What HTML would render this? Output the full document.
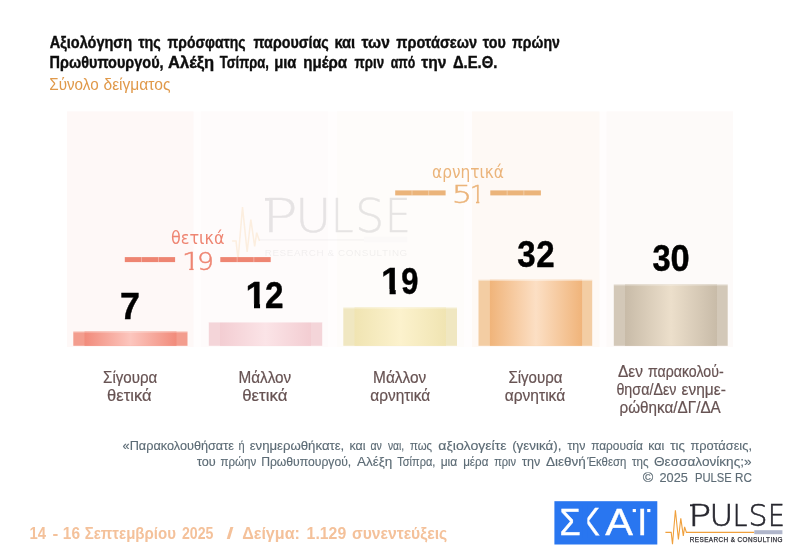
<!DOCTYPE html>
<html lang="el">
<head>
<meta charset="utf-8">
<title>Αξιολόγηση της πρόσφατης παρουσίας και των προτάσεων του πρώην Πρωθυπουργού</title>
<style>
  html, body { margin:0; padding:0; background:#ffffff; }
  body { width:798px; height:558px; overflow:hidden; }
  svg { display:block; will-change:transform; }
  text { font-family:"Liberation Sans", sans-serif; }
  .b { font-weight:bold; }
  .ttl { font-weight:bold; font-size:17px; fill:#0d0d0d; stroke:#0d0d0d; stroke-width:0.4px; }
  .sub { font-size:16px; fill:#e0994a; }
  .num text { font-weight:bold; font-size:37px; fill:#000; stroke:#000; stroke-width:0.45px; }
  .lab { font-size:15.6px; fill:#675353; stroke:#675353; stroke-width:0.2px; }
  .q   { font-size:13.5px; fill:#5c6b75; stroke:#5c6b75; stroke-width:0.15px; }
  .ft  { font-weight:bold; font-size:16px; fill:#f4c19a; }
  .pos { fill:#ee8572; }
  .neg { fill:#ebb47a; }
  .dv { font-family:"DejaVu Sans",sans-serif; font-weight:normal; }
  .pos .ltn { stroke:#ee8572; stroke-width:0.5px; }
  .neg .ltn { stroke:#ebb47a; stroke-width:0.5px; }
  .lt { font-family:"DejaVu Sans Light","DejaVu Sans",sans-serif; font-weight:200; }
</style>
</head>
<body>
<svg width="798" height="558" viewBox="0 0 798 558">
  <defs>
    <linearGradient id="g1" x1="0" x2="1" y1="0" y2="0">
      <stop offset="0" stop-color="#f18b7b"/><stop offset="0.5" stop-color="#fcc6be"/><stop offset="1" stop-color="#f18b7b"/>
    </linearGradient>
    <linearGradient id="g2" x1="0" x2="1" y1="0" y2="0">
      <stop offset="0" stop-color="#f3cdd2"/><stop offset="0.5" stop-color="#fbe4e7"/><stop offset="1" stop-color="#f3cdd2"/>
    </linearGradient>
    <linearGradient id="g3" x1="0" x2="1" y1="0" y2="0">
      <stop offset="0" stop-color="#f0e4b2"/><stop offset="0.5" stop-color="#fcf2cd"/><stop offset="1" stop-color="#f0e4b2"/>
    </linearGradient>
    <linearGradient id="g4" x1="0" x2="1" y1="0" y2="0">
      <stop offset="0" stop-color="#f0b47a"/><stop offset="0.5" stop-color="#fcdfc4"/><stop offset="1" stop-color="#f0b47a"/>
    </linearGradient>
    <linearGradient id="g5" x1="0" x2="1" y1="0" y2="0">
      <stop offset="0" stop-color="#c8bba8"/><stop offset="0.5" stop-color="#ecdfcb"/><stop offset="1" stop-color="#c8bba8"/>
    </linearGradient>
    <clipPath id="one"><polygon points="0,-32 14.7,-32 14.7,2 8.6,2 8.6,-4.4 0,-4.4"/></clipPath>
    <clipPath id="iclip"><rect x="-6" y="-26.8" width="24" height="30"/></clipPath>
    <clipPath id="onel"><polygon points="0,-26 10.1,-26 10.1,1 6.5,1 6.5,-2.4 0,-2.4"/></clipPath>
  </defs>

  <!-- faint background columns -->
  <g id="cols">
    <rect x="67" y="111.5" width="666" height="235.5" fill="#fffdfd"/>
    <rect x="67"    y="111.5" width="126.5" height="235.5" fill="#fef8f7"/>
    <rect x="201"   y="111.5" width="127"   height="235.5" fill="#fefbfb"/>
    <rect x="337"   y="111.5" width="127"   height="235.5" fill="#fefcfa"/>
    <rect x="472"   y="111.5" width="127.5" height="235.5" fill="#fef9f5"/>
    <rect x="606.5" y="111.5" width="126.5" height="235.5" fill="#fdfaf9"/>
  </g>

  <!-- watermark -->
  <g id="watermark" transform="translate(265,231.7) scale(1.54) translate(-690,-526.3)">
    <polyline fill="none" stroke="#f0a03c" stroke-opacity="0.14" stroke-width="1" points="668.6,532.4 671.2,532.4 672.5,544.3 675.4,510.3 678.4,539.4 680.8,518.4 683.3,535.8 684.6,526.9 686.4,532.4"/>
    <g opacity="0.105">
      <path d="M686.4,531.6 H754.3" stroke="#55555f" stroke-width="0.9" fill="none" opacity="0.5"/>
      <rect x="754.3" y="529.6" width="28.1" height="3.6" fill="#7a83a5" opacity="0.2"/>
      <text class="lt" fill="#26262e" stroke="#26262e" stroke-width="0.3" font-size="30.2" y="526.3"><tspan x="688.3" textLength="23.1" lengthAdjust="spacingAndGlyphs">P</tspan><tspan x="709.5" textLength="23.7" lengthAdjust="spacingAndGlyphs">U</tspan><tspan x="732.8" textLength="14.66" lengthAdjust="spacingAndGlyphs">L</tspan><tspan x="748.5" textLength="19" lengthAdjust="spacingAndGlyphs">S</tspan><tspan x="767.9" textLength="16.74" lengthAdjust="spacingAndGlyphs">E</tspan></text>
      <path d="M690,505.3 H693" stroke="#26262e" stroke-width="1.9" fill="none"/>
      <text fill="#33333a" opacity="0.6" font-size="6.4" x="689.8" y="542.2" textLength="92.6" lengthAdjust="spacing">RESEARCH &amp; CONSULTING</text>
    </g>
  </g>

  <!-- title -->
  <text class="ttl" y="48"><tspan x="49.77" textLength="82.43" lengthAdjust="spacingAndGlyphs">Αξιολόγηση</tspan> <tspan x="138.20" textLength="22.61" lengthAdjust="spacingAndGlyphs">της</tspan> <tspan x="167.58" textLength="77.92" lengthAdjust="spacingAndGlyphs">πρόσφατης</tspan> <tspan x="253.58" textLength="75.13" lengthAdjust="spacingAndGlyphs">παρουσίας</tspan> <tspan x="334.38" textLength="20.83" lengthAdjust="spacingAndGlyphs">και</tspan> <tspan x="361.60" textLength="28.23" lengthAdjust="spacingAndGlyphs">των</tspan> <tspan x="396.27" textLength="80.82" lengthAdjust="spacingAndGlyphs">προτάσεων</tspan> <tspan x="482.80" textLength="23.00" lengthAdjust="spacingAndGlyphs">του</tspan> <tspan x="512.08" textLength="47.69" lengthAdjust="spacingAndGlyphs">πρώην</tspan></text>
  <text class="ttl" y="68.2"><tspan x="49.60" textLength="114.06" lengthAdjust="spacingAndGlyphs">Πρωθυπουργού,</tspan> <tspan x="168.04" textLength="46.16" lengthAdjust="spacingAndGlyphs">Αλέξη</tspan> <tspan x="219.70" textLength="49.17" lengthAdjust="spacingAndGlyphs">Τσίπρα,</tspan> <tspan x="274.17" textLength="22.31" lengthAdjust="spacingAndGlyphs">μια</tspan> <tspan x="303.19" textLength="43.89" lengthAdjust="spacingAndGlyphs">ημέρα</tspan> <tspan x="354.59" textLength="29.55" lengthAdjust="spacingAndGlyphs">πριν</tspan> <tspan x="390.82" textLength="24.49" lengthAdjust="spacingAndGlyphs">από</tspan> <tspan x="421.20" textLength="25.13" lengthAdjust="spacingAndGlyphs">την</tspan> <tspan x="452.94" textLength="44.44" lengthAdjust="spacingAndGlyphs">Δ.Ε.Θ.</tspan></text>
  <text class="sub" y="89.5"><tspan x="49.29" textLength="49.33" lengthAdjust="spacingAndGlyphs">Σύνολο</tspan> <tspan x="103.51" textLength="66.94" lengthAdjust="spacingAndGlyphs">δείγματος</tspan></text>

  <!-- bars -->
  <g id="bars">
    <rect x="73.3"  y="331.5" width="114.2" height="14.3" fill="#f39d8e"/>
    <rect x="84.5"  y="331.5" width="92"    height="14.3" fill="url(#g1)"/>
    <rect x="208.8" y="322"   width="113.4" height="23.8" fill="#f4d5d9"/>
    <rect x="220"   y="322"   width="91"    height="23.8" fill="url(#g2)"/>
    <rect x="343.3" y="307.5" width="113.7" height="38.3" fill="#f0e7c1"/>
    <rect x="354.5" y="307.5" width="91.5"  height="38.3" fill="url(#g3)"/>
    <rect x="478.5" y="279.8" width="113.7" height="66"   fill="#f3cda3"/>
    <rect x="489.9" y="279.8" width="92.2"  height="66"   fill="url(#g4)"/>
    <rect x="613.8" y="284.5" width="113.9" height="61.3" fill="#d3c8b8"/>
    <rect x="625"   y="284.5" width="92"    height="61.3" fill="url(#g5)"/>
    <g fill="#ffffff" opacity="0.4">
      <rect x="73.3" y="331.5" width="114.2" height="1"/><rect x="208.8" y="322" width="113.4" height="1"/><rect x="343.3" y="307.5" width="113.7" height="1"/><rect x="478.5" y="279.8" width="113.7" height="1.2"/><rect x="613.8" y="284.5" width="113.9" height="1"/>
    </g>
  </g>

  <!-- values -->
  <g class="num">
    <text transform="translate(119.9,318.7) scale(0.97,1)">7</text>
    <text transform="translate(245.4,308.1)" clip-path="url(#one)">1</text><text transform="translate(264.9,308.1) scale(0.9,1)">2</text>
    <text transform="translate(381,293.7)" clip-path="url(#one)">1</text><text transform="translate(401.3,293.7) scale(0.833,1)">9</text>
    <text transform="translate(517.2,266.6) scale(0.894,1)">3</text><text transform="translate(536.2,266.6) scale(0.894,1)">2</text>
    <text transform="translate(652.4,270.9) scale(0.883,1)">3</text><text transform="translate(670.5,270.9) scale(0.93,1)">0</text>
  </g>

  <!-- category labels -->
  <text class="lab" y="382.9"><tspan x="103.09" textLength="54.14" lengthAdjust="spacingAndGlyphs">Σίγουρα</tspan></text>
  <text class="lab" y="401.4"><tspan x="107.12" textLength="44.43" lengthAdjust="spacingAndGlyphs">θετικά</tspan></text>
  <text class="lab" y="382.9"><tspan x="238.51" textLength="52.77" lengthAdjust="spacingAndGlyphs">Μάλλον</tspan></text>
  <text class="lab" y="401.4"><tspan x="242.21" textLength="45.15" lengthAdjust="spacingAndGlyphs">θετικά</tspan></text>
  <text class="lab" y="382.9"><tspan x="373.10" textLength="53.19" lengthAdjust="spacingAndGlyphs">Μάλλον</tspan></text>
  <text class="lab" y="401.4"><tspan x="370.22" textLength="60.02" lengthAdjust="spacingAndGlyphs">αρνητικά</tspan></text>
  <text class="lab" y="382.9"><tspan x="508.39" textLength="54.14" lengthAdjust="spacingAndGlyphs">Σίγουρα</tspan></text>
  <text class="lab" y="401.4"><tspan x="504.71" textLength="60.53" lengthAdjust="spacingAndGlyphs">αρνητικά</tspan></text>
  <text class="lab" y="376.6"><tspan x="617.96" textLength="25.03" lengthAdjust="spacingAndGlyphs">Δεν</tspan> <tspan x="648.06" textLength="75.55" lengthAdjust="spacingAndGlyphs">παρακολού-</tspan></text>
  <text class="lab" y="394.8"><tspan x="616.43" textLength="60.02" lengthAdjust="spacingAndGlyphs">θησα/Δεν</tspan> <tspan x="681.51" textLength="44.35" lengthAdjust="spacingAndGlyphs">ενημε-</tspan></text>
  <text class="lab" y="413.2"><tspan x="619.55" textLength="101.18" lengthAdjust="spacingAndGlyphs">ρώθηκα/ΔΓ/ΔΑ</tspan></text>

  <!-- positive total -->
  <g class="pos">
    <text class="dv" x="171" y="243.6" font-size="17.8" textLength="53.5" lengthAdjust="spacingAndGlyphs">θετικά</text>
    <g font-size="25.5"><text class="lt ltn" transform="translate(181.7,269.6) scale(1.17,1)" clip-path="url(#onel)">1</text><text class="lt ltn" transform="translate(197.1,269.6) scale(1.046,1)">9</text></g>
    <rect x="124.8" y="257.1" width="50.3" height="5"/>
    <rect x="220.3" y="257.1" width="50.4" height="5"/>
    <rect x="141.3" y="257.1" width="0.6" height="5" fill="#fff" opacity="0.55"/><rect x="158.1" y="257.1" width="0.6" height="5" fill="#fff" opacity="0.55"/>
    <rect x="236.8" y="257.1" width="0.6" height="5" fill="#fff" opacity="0.55"/><rect x="253.6" y="257.1" width="0.6" height="5" fill="#fff" opacity="0.55"/>
  </g>

  <!-- negative total -->
  <g class="neg">
    <text class="dv" x="432" y="177.8" font-size="17.8" textLength="72" lengthAdjust="spacingAndGlyphs">αρνητικά</text>
    <g font-size="25.5"><text class="lt ltn" transform="translate(451.8,203.2) scale(1.263,1)">5</text><text class="lt ltn" transform="translate(470.05,203.2) scale(0.913,1)" clip-path="url(#onel)">1</text></g>
    <rect x="395.2" y="190.4" width="50.4" height="5"/>
    <rect x="490.3" y="190.4" width="50.6" height="5"/>
    <rect x="411.7" y="190.4" width="0.6" height="5" fill="#fff" opacity="0.55"/><rect x="428.5" y="190.4" width="0.6" height="5" fill="#fff" opacity="0.55"/>
    <rect x="506.8" y="190.4" width="0.6" height="5" fill="#fff" opacity="0.55"/><rect x="523.6" y="190.4" width="0.6" height="5" fill="#fff" opacity="0.55"/>
  </g>

  <!-- question -->
  <text class="q" y="449.5"><tspan x="122.60" textLength="111.30" lengthAdjust="spacingAndGlyphs">«Παρακολουθήσατε</tspan> <tspan x="238.48" textLength="6.14" lengthAdjust="spacingAndGlyphs">ή</tspan> <tspan x="249.69" textLength="94.60" lengthAdjust="spacingAndGlyphs">ενημερωθήκατε,</tspan> <tspan x="349.52" textLength="16.01" lengthAdjust="spacingAndGlyphs">και</tspan> <tspan x="370.47" textLength="11.46" lengthAdjust="spacingAndGlyphs">αν</tspan> <tspan x="387.90" textLength="16.27" lengthAdjust="spacingAndGlyphs">ναι,</tspan> <tspan x="410.04" textLength="22.08" lengthAdjust="spacingAndGlyphs">πως</tspan> <tspan x="438.36" textLength="68.26" lengthAdjust="spacingAndGlyphs">αξιολογείτε</tspan> <tspan x="512.17" textLength="49.23" lengthAdjust="spacingAndGlyphs">(γενικά),</tspan> <tspan x="567.40" textLength="17.99" lengthAdjust="spacingAndGlyphs">την</tspan> <tspan x="591.13" textLength="51.76" lengthAdjust="spacingAndGlyphs">παρουσία</tspan> <tspan x="648.22" textLength="16.01" lengthAdjust="spacingAndGlyphs">και</tspan> <tspan x="670.30" textLength="14.68" lengthAdjust="spacingAndGlyphs">τις</tspan> <tspan x="690.40" textLength="61.56" lengthAdjust="spacingAndGlyphs">προτάσεις,</tspan></text>
  <text class="q" y="465.6"><tspan x="197.00" textLength="18.79" lengthAdjust="spacingAndGlyphs">του</tspan> <tspan x="220.44" textLength="35.72" lengthAdjust="spacingAndGlyphs">πρώην</tspan> <tspan x="261.15" textLength="90.06" lengthAdjust="spacingAndGlyphs">Πρωθυπουργού,</tspan> <tspan x="357.00" textLength="35.36" lengthAdjust="spacingAndGlyphs">Αλέξη</tspan> <tspan x="397.23" textLength="38.20" lengthAdjust="spacingAndGlyphs">Τσίπρα,</tspan> <tspan x="440.64" textLength="16.64" lengthAdjust="spacingAndGlyphs">μια</tspan> <tspan x="463.17" textLength="25.21" lengthAdjust="spacingAndGlyphs">μέρα</tspan> <tspan x="494.15" textLength="21.99" lengthAdjust="spacingAndGlyphs">πριν</tspan> <tspan x="522.00" textLength="18.19" lengthAdjust="spacingAndGlyphs">την</tspan> <tspan x="545.89" textLength="39.87" lengthAdjust="spacingAndGlyphs">Διεθνή</tspan> <tspan x="587.18" textLength="39.16" lengthAdjust="spacingAndGlyphs">Έκθεση</tspan> <tspan x="632.00" textLength="16.53" lengthAdjust="spacingAndGlyphs">της</tspan> <tspan x="654.06" textLength="97.49" lengthAdjust="spacingAndGlyphs">Θεσσαλονίκης;»</tspan></text>
  <text class="q" y="481.6"><tspan x="642.70" textLength="10.53" lengthAdjust="spacingAndGlyphs">©</tspan> <tspan x="659.50" textLength="28.31" lengthAdjust="spacingAndGlyphs">2025</tspan> <tspan x="694.92" textLength="36.85" lengthAdjust="spacingAndGlyphs">PULSE</tspan> <tspan x="735.09" textLength="16.81" lengthAdjust="spacingAndGlyphs">RC</tspan></text>

  <!-- footer -->
  <text class="ft" y="538.6"><tspan x="29.57" textLength="16.53" lengthAdjust="spacingAndGlyphs">14</tspan> <tspan x="52.46" textLength="5.77" lengthAdjust="spacingAndGlyphs">-</tspan> <tspan x="62.84" textLength="17.15" lengthAdjust="spacingAndGlyphs">16</tspan> <tspan x="84.73" textLength="91.20" lengthAdjust="spacingAndGlyphs">Σεπτεμβρίου</tspan> <tspan x="181.96" textLength="31.39" lengthAdjust="spacingAndGlyphs">2025</tspan> <tspan x="226.40" textLength="7.11" lengthAdjust="spacingAndGlyphs">/</tspan> <tspan x="242.20" textLength="57.74" lengthAdjust="spacingAndGlyphs">Δείγμα:</tspan> <tspan x="306.61" textLength="39.58" lengthAdjust="spacingAndGlyphs">1.129</tspan> <tspan x="351.91" textLength="95.25" lengthAdjust="spacingAndGlyphs">συνεντεύξεις</tspan></text>

  <!-- SKAI logo -->
  <g id="skai">
    <rect x="554.4" y="501.2" width="102.9" height="43.3" fill="#2976f0"/>
    <text fill="#ffffff" stroke="#ffffff" stroke-width="0.35" font-size="37.8" y="534.9"><tspan x="559.6" textLength="21.24" lengthAdjust="spacingAndGlyphs">Σ</tspan><tspan x="581.1" textLength="17.72" lengthAdjust="spacingAndGlyphs" font-size="36.5" style="font-family:'DejaVu Sans',sans-serif">Κ</tspan><tspan x="605.2" textLength="27.7" lengthAdjust="spacingAndGlyphs">Α</tspan></text><text fill="#ffffff" stroke="#ffffff" stroke-width="0.35" font-size="37.8" transform="translate(637.3,534.9) scale(0.95,1)" clip-path="url(#iclip)">Ϊ</text>
    <rect x="582.3" y="505" width="5" height="33" fill="#2976f0"/>
    <rect x="632.7" y="509" width="3.2" height="3.1" fill="#ffffff"/><rect x="647.2" y="509" width="3.2" height="3.1" fill="#ffffff"/>
  </g>

  <!-- PULSE logo -->
  <g id="pulse">
    <polyline fill="none" stroke="#f0a03c" stroke-width="1.1" stroke-linejoin="miter" points="665.4,532.4 671.2,532.4 672.5,544.3 675.4,510.3 678.4,539.4 680.8,518.4 683.3,535.8 684.6,526.9 686.4,532.4 754.3,532.4"/>
    <rect x="754.3" y="530.2" width="28.1" height="4" fill="#b0b6cb"/>
    <text class="lt" fill="#26262e" stroke="#26262e" stroke-width="0.6" font-size="30.2" y="526.3"><tspan x="688.3" textLength="23.1" lengthAdjust="spacingAndGlyphs">P</tspan><tspan x="709.5" textLength="23.7" lengthAdjust="spacingAndGlyphs">U</tspan><tspan x="732.8" textLength="14.66" lengthAdjust="spacingAndGlyphs">L</tspan><tspan x="748.5" textLength="19" lengthAdjust="spacingAndGlyphs">S</tspan><tspan x="767.9" textLength="16.74" lengthAdjust="spacingAndGlyphs">E</tspan></text>
    <path d="M690,505.3 H693" stroke="#26262e" stroke-width="1.9" fill="none"/>
    <text fill="#2e2e36" stroke="#2e2e36" stroke-width="0.25" font-size="6.4" x="689.8" y="542.2" textLength="92.8" lengthAdjust="spacing">RESEARCH &amp; CONSULTING</text>
  </g>
</svg>
</body>
</html>
